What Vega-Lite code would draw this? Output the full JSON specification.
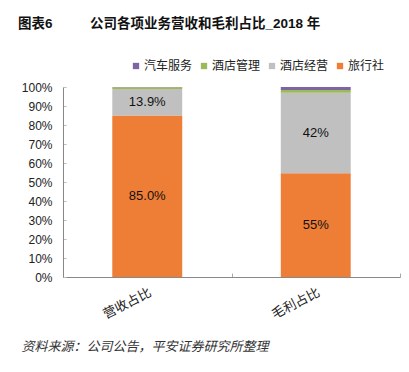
{
  "$schema": "https://vega.github.io/schema/vega-lite/v6.json",
  "width": 337,
  "height": 190,
  "autosize": {"type": "none"},
  "padding": {"left": 63, "top": 87, "right": 9, "bottom": 95},
  "background": "white",
  "title": {
    "text": "图表6\u00a0\u00a0\u00a0\u00a0\u00a0\u00a0\u00a0\u00a0\u00a0\u00a0公司各项业务营收和毛利占比_2018 年",
    "anchor": "start",
    "frame": "group",
    "dx": -45,
    "font": "Liberation Sans, Noto Sans CJK SC",
    "fontSize": 13.5,
    "fontWeight": "bold",
    "color": "#111",
    "offset": 30
  },
  "data": {
    "values": [
      {"cat": "营收占比", "biz": "旅行社", "value": 0.850, "label": "85.0%", "rank": 1},
      {"cat": "营收占比", "biz": "酒店经营", "value": 0.139, "label": "13.9%", "rank": 2},
      {"cat": "营收占比", "biz": "酒店管理", "value": 0.010, "label": "", "rank": 3},
      {"cat": "营收占比", "biz": "汽车服务", "value": 0.001, "label": "", "rank": 4},
      {"cat": "毛利占比", "biz": "旅行社", "value": 0.546, "label": "55%", "rank": 1},
      {"cat": "毛利占比", "biz": "酒店经营", "value": 0.424, "label": "42%", "rank": 2},
      {"cat": "毛利占比", "biz": "酒店管理", "value": 0.014, "label": "", "rank": 3},
      {"cat": "毛利占比", "biz": "汽车服务", "value": 0.016, "label": "", "rank": 4}
    ]
  },
  "encoding": {
    "x": {
      "field": "cat",
      "type": "nominal",
      "sort": ["营收占比", "毛利占比"],
      "scale": {"paddingInner": 0, "paddingOuter": 0},
      "axis": {
        "title": "资料来源：公司公告，平安证券研究所整理",
        "titleFont": "Liberation Sans, Noto Sans CJK SC",
        "titleFontStyle": "italic",
        "titleFontWeight": "normal",
        "titleFontSize": 13,
        "titleColor": "#333",
        "titleAnchor": "start",
        "titleAlign": "left",
        "titleBaseline": "middle",
        "titleX": -42,
        "titleY": 69,
        "labelAngle": -27,
        "labelFont": "Liberation Sans, Noto Sans CJK SC",
        "labelFontSize": 13,
        "labelColor": "#222",
        "labelPadding": 13,
        "domainColor": "#888",
        "tickColor": "#aaa",
        "tickSize": -4,
        "tickBand": "extent"
      }
    }
  },
  "layer": [
    {
      "mark": {"type": "bar", "width": {"band": 0.415}},
      "encoding": {
        "y": {
          "field": "value",
          "type": "quantitative",
          "stack": "zero",
          "scale": {"domain": [0, 1], "nice": false},
          "axis": {
            "title": null,
            "format": ".0%",
            "values": [0, 0.1, 0.2, 0.3, 0.4, 0.5, 0.6, 0.7, 0.8, 0.9, 1],
            "labelOverlap": false,
            "labelFlush": false,
            "grid": false,
            "labelFont": "Liberation Sans, Noto Sans CJK SC",
            "labelFontSize": 12,
            "labelColor": "#222",
            "labelPadding": 14,
            "domainColor": "#888",
            "tickColor": "#bbb",
            "tickSize": -3
          }
        },
        "color": {
          "field": "biz",
          "type": "nominal",
          "scale": {
            "domain": ["汽车服务", "酒店管理", "酒店经营", "旅行社"],
            "range": ["#7f64a5", "#9bbb59", "#c0c0c0", "#ee7d36"]
          },
          "legend": {
            "title": null,
            "orient": "none",
            "direction": "horizontal",
            "legendX": 67,
            "legendY": -27,
            "symbolType": "square",
            "symbolSize": 40,
            "symbolStrokeWidth": 0,
            "labelFont": "Liberation Sans, Noto Sans CJK SC",
            "labelFontSize": 12,
            "labelColor": "#222",
            "labelOffset": 2,
            "columnPadding": 5
          }
        },
        "order": {"field": "rank", "type": "quantitative", "sort": "ascending"}
      }
    },
    {
      "mark": {
        "type": "text",
        "font": "Liberation Sans",
        "fontSize": 13,
        "color": "#111",
        "baseline": "middle",
        "align": "center"
      },
      "encoding": {
        "y": {
          "field": "value",
          "type": "quantitative",
          "stack": "zero",
          "bandPosition": 0.5,
          "scale": {"domain": [0, 1], "nice": false},
          "axis": {
            "title": null,
            "format": ".0%",
            "values": [0, 0.1, 0.2, 0.3, 0.4, 0.5, 0.6, 0.7, 0.8, 0.9, 1],
            "labelOverlap": false,
            "labelFlush": false,
            "grid": false,
            "labelFont": "Liberation Sans, Noto Sans CJK SC",
            "labelFontSize": 12,
            "labelColor": "#222",
            "labelPadding": 14,
            "domainColor": "#888",
            "tickColor": "#bbb",
            "tickSize": -3
          }
        },
        "text": {"field": "label"},
        "order": {"field": "rank", "type": "quantitative", "sort": "ascending"}
      }
    }
  ],
  "config": {"view": {"stroke": null}}
}
